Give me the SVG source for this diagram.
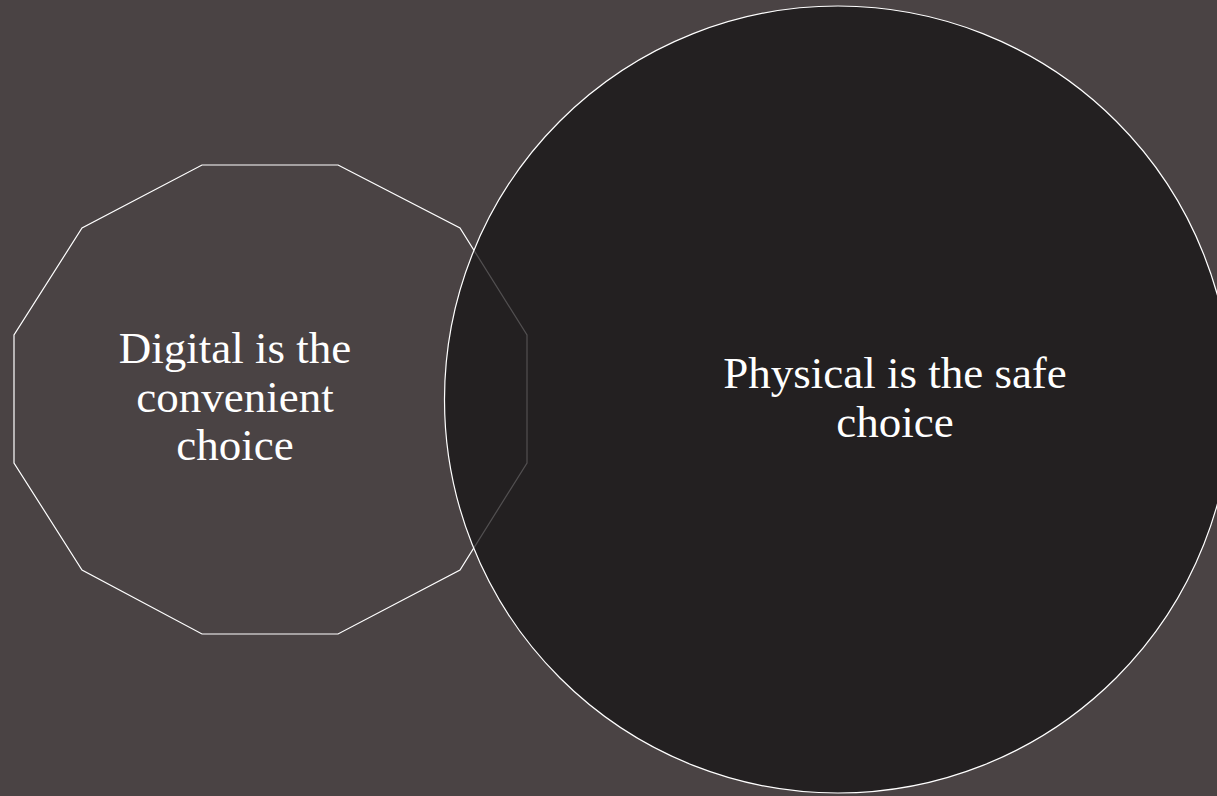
<svg xmlns="http://www.w3.org/2000/svg" width="1217" height="796" viewBox="0 0 1217 796">
<style>
.lbl{font-family:"Liberation Serif","Times New Roman",serif;font-size:45px;fill:#ffffff;text-anchor:middle}
</style>
<rect width="1217" height="796" fill="#4a4344"/>
<g id="node-digital">
<polygon points="338,165 460,228 527,335 527,463 460,570 338,634 202,634 82,570 14,463 14,335 82,228 202,165" fill="none" stroke="#ffffff" stroke-width="1.2"/>
<text class="lbl"><tspan x="235" y="363">Digital is the</tspan><tspan x="235" y="412">convenient</tspan><tspan x="235" y="460">choice</tspan></text>
</g>
<g id="node-physical">
<circle cx="838" cy="399.5" r="393.5" fill="#171415" fill-opacity="0.75" stroke="#ffffff" stroke-width="1.2"/>
<text class="lbl"><tspan x="895" y="388">Physical is the safe</tspan><tspan x="895" y="437">choice</tspan></text>
</g>
<g id="connectors"/>
</svg>
